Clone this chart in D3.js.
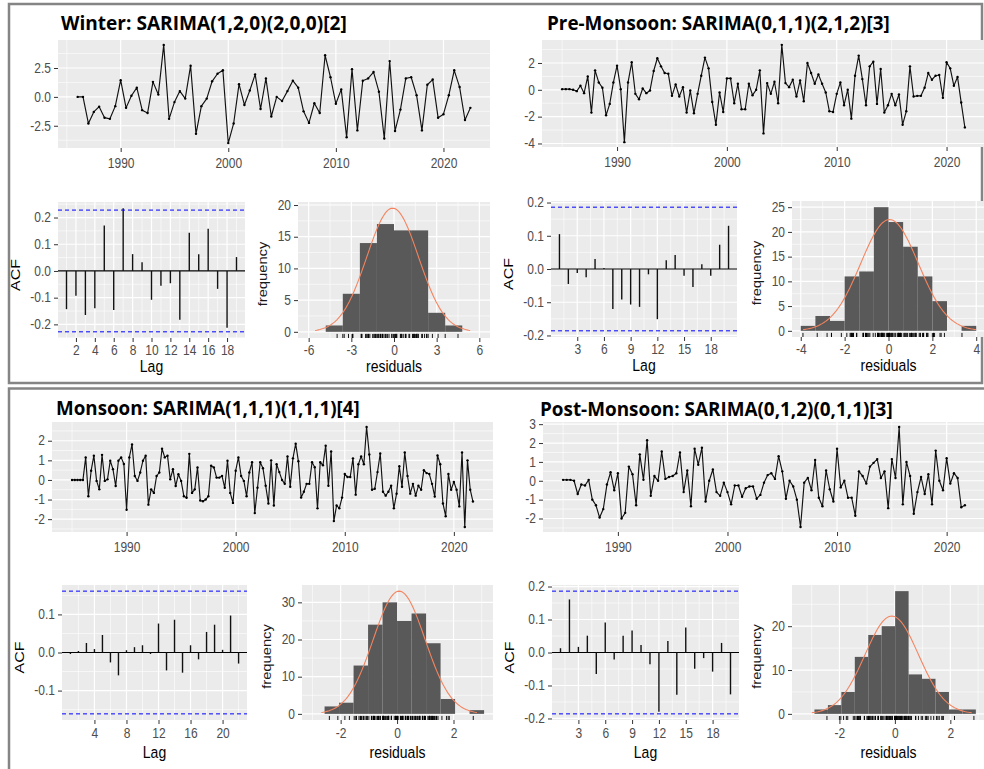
<!DOCTYPE html>
<html>
<head>
<meta charset="utf-8">
<script src="https://cdn.jsdelivr.net/npm/d3@7"></script>
<style>
  body { margin: 0; background: #fff; }
  svg { display: block; }
</style>
</head>
<body>
<script>
// ---------------- data ----------------
const titles = [
  "Winter: SARIMA(1,2,0)(2,0,0)[2]",
  "Pre-Monsoon: SARIMA(0,1,1)(2,1,2)[3]",
  "Monsoon: SARIMA(1,1,1)(1,1,1)[4]",
  "Post-Monsoon: SARIMA(0,1,2)(0,1,1)[3]"
];

// residual series (start year, observations per year)
const winterStart = 1986, winterFreq = 2;
const winterResid = [
  0.0, 0.0, -2.3, -1.3, -0.85, -1.8, -1.9, -0.8, 1.45, -0.95,
  0.1, 0.8, -1.15, -1.4, 1.3, 0.2, 4.5, -1.9, -0.45, 0.5,
  -0.15, 2.7, -3.2, -0.8, -0.15, 1.35, 2.0, 2.3, -4.0, -2.3,
  1.1, -0.7, 0.55, 1.95, -1.05, 1.6, -1.7, 0.0, -0.35, 0.5,
  1.4, 0.8, -1.25, -2.25, -0.55, -1.4, 3.6, 1.7, -0.6, 0.65,
  -3.5, 2.4, -2.9, 1.4, 1.6, 2.15, 0.45, -3.6, 3.1, -2.95,
  -1.1, 1.6, 1.7, 0.15, -2.9, 1.05, 1.5, -1.8, -1.5, 0.15,
  2.3, 0.85, -2.0, -0.95
];

const preStart = 1985, preFreq = 3;
const preResid = [
  0.05, 0.05, 0.05, 0.0, -0.1, 0.3, -0.25, 1.0, -1.7, 1.45, 0.55, 0.15,
  -1.9, -1.05, 0.55, 1.8, 0.05, -3.9, 0.55, 2.05, -0.3,
  -0.7, 0.1, -0.25, -0.05, 1.4, 2.35, 1.75, 1.25, 1.2, -0.45,
  0.4, -0.5, 0.2, -1.7, -0.05, -1.75, -0.3, 1.05, 2.4, 1.6,
  -0.9, -2.6, -0.2, -1.65, 0.85, 0.85, -1.0, 0.45, -1.45, -1.45,
  0.45, -0.4, 0.0, 1.45, -3.25, 0.5, -0.3, 0.6, -1.0, 3.35,
  0.5, 0.2, 0.75, -0.5, 0.7, -0.85, 2.0, 1.25, 0.45, 1.15,
  0.45, -0.2, -1.6, -1.65, -0.3, 0.55, -1.15, 0.0, -2.15, 1.05,
  2.55, 0.8, -1.15, 1.75, 2.1, -1.05, 1.55, -1.7, -1.15, -0.3,
  -1.15, -0.35, -2.6, -1.6, 1.75, -0.5, -0.45, -0.45, 0.15, 1.25,
  0.75, 1.05, 1.1, -0.6, 2.05, 1.6, 0.3, 0.95, -0.95, -2.8
];

const monStart = 1985, monFreq = 4;
const monResid = [
  0, 0, 0, 0, 0,
  1.15, -0.83, 0.47, 1.24, -0.05, -0.48, 1.28, -0.05, 0.03, 0.98, 0.55, -0.31, 0.98, 1.15, 0.81, -1.52,
  1.15, 1.81, 0.2, -0.05, 0.38, 0.98, 1.24, -1.26, -0.48, -0.66, 0.2, 0.38, 1.59, 1.15, 1.24, 0.03,
  0.55, -0.31, 0.29, -0.05, -0.83, -0.91, 1.33, -0.66, -0.48, 0.64, -1.05, -1.09, -1.0, -0.83, 0.72,
  0.64, 0.12, 0.12, 0.2, -0.4, 0.98, -0.66, -1.17,
  0.47, 1.15, 0.2, -0.05, -0.83, 0.38, 0.9, -1.69, -0.4,
  0.9, 0.6, -0.3, -1.2, 1.0, -1.3, 0.8, 0.4, 0.0, -0.2, 1.2, -0.35, 1.1, 1.85, 0.95, -0.9,
  -0.6, -0.2, -0.2, 0.9, 0.65, -1.45, 0.9, 0.75, 1.75, -0.3, 1.45, -2.1, -1.3, -1.45, -0.9,
  0.3, 0.15, 0.15, 1.1, -0.75, 0.8, 1.2, 0.8, 2.7, 1.3, -0.5, -0.45, 0.4, 1.35, -0.6, -0.8,
  -0.6, -0.3, -1.45, -0.7, 0.7, -0.35, 1.4, 0.2, -0.7, -0.2, -0.8, -0.3, -0.5, 0.5, 0.35,
  0.3, -0.2, -0.85, 1.25, 0.8, -1.2, -1.85, 0.3, -0.5, -0.1, -0.5, -1.35, 1.4, -2.4, 1.0,
  -0.5, -1.1
];

const postStart = 1985, postFreq = 3;
const postResid = [
  0.05, 0.05, 0.05, 0.0, -0.7, -0.2, -0.25, 0.05, -1.0, -1.3,
  -1.95, -1.5, -0.2, 0.45, -0.5, 0.4, -2.0, -1.7, 0.75, 0.35,
  -1.3, 1.4, 0.05, 2.15, -0.8, 0.25, 0.0, 1.55, 0.1, 0.2,
  0.25, 0.4, 1.5, -0.6, 0.55, -1.35, 1.7, 0.85, 1.75, -1.1,
  0.0, 0.6, -0.6, -0.8, -0.1, -0.6, -1.25, -0.25, -0.25, -0.85,
  -0.4, -0.3, -0.3, -0.95, -0.75, -0.1, 0.3, 0.4, 0.1, 1.3,
  0.5, -0.95, 0.0, -0.3, -1.0, -2.45, -0.1, 0.15, -0.5, 1.1,
  -0.9, -1.35, 0.55, -0.45, -1.1, 1.7, -0.35, 0.0, -0.9, -0.9,
  -1.85, 0.5, 0.25, -0.15, 0.75, 0.95, 1.15, 0.15, 0.5, -1.45,
  1.15, 0.15, 2.85, -1.25, 1.0, 0.25, -1.75, -0.6, 0.2, -0.7,
  0.35, -1.25, 1.6, 0.0, -0.5, 1.2, -0.15, 0.4, 0.15, -1.4,
  -1.3
];

// autocorrelations, lag 1..n
const winterAcf = [-0.143, -0.093, -0.165, -0.14, 0.17, -0.146, 0.235, 0.063, 0.033, -0.108,
  -0.055, -0.046, -0.183, 0.143, 0.063, 0.158, -0.067, -0.213, 0.052];
const preAcf = [0.105, -0.045, -0.012, -0.025, 0.03, 0.003, -0.12, -0.092, -0.107, -0.114,
  -0.016, -0.151, 0.026, 0.042, -0.02, -0.054, 0.014, -0.02, 0.073, 0.13];
const monAcf = [-0.004, 0.004, 0.025, 0.009, 0.046, -0.026, -0.06, 0.006, 0.014, 0.019,
  -0.004, 0.076, -0.047, 0.086, -0.053, 0.019, -0.018, 0.054, 0.073, 0.007, 0.097, -0.029];
const postAcf = [0.013, 0.161, 0.017, 0.051, -0.065, 0.091, -0.021, 0.051, 0.067, 0.023,
  -0.036, -0.18, 0.035, -0.128, 0.076, -0.049, -0.017, -0.058, 0.029, -0.127];

// histogram bins of the residuals
const winterBreaks = [-4.8, -3.6, -2.4, -1.2, 0, 1.2, 2.4, 3.6, 4.8];
const winterCounts = [1, 6, 14, 17, 16, 16, 3, 1];
const preBreaks = [-4, -3.333, -2.667, -2, -1.333, -0.667, 0, 0.667, 1.333, 2, 2.667, 3.333, 4];
const preCounts = [1, 3, 2, 11, 12, 25, 22, 17, 11, 6, 0, 1];
const monBreaks = [-2.57, -2.056, -1.542, -1.028, -0.514, 0, 0.514, 1.028, 1.542, 2.056, 2.57, 3.084];
const monCounts = [2, 3, 13, 24, 30, 25, 27, 19, 4, 0, 1];
const postBreaks = [-2.9, -2.415, -1.93, -1.445, -0.96, -0.475, 0.01, 0.495, 0.98, 1.465, 1.95, 2.435, 2.92];
const postCounts = [1, 2, 5, 13, 18, 20, 28, 9, 8, 5, 1, 1];

// tick labels
const yearTicks = [1990, 2000, 2010, 2020];
const winterTsTicks = [-2.5, 0, 2.5];
const preTsTicks = [-4, -2, 0, 2];
const monTsTicks = [-2, -1, 0, 1, 2];
const postTsTicks = [-2, -1, 0, 1, 2, 3];
const winterLagTicks = [2, 4, 6, 8, 10, 12, 14, 16, 18];
const preLagTicks = [3, 6, 9, 12, 15, 18];
const monLagTicks = [4, 8, 12, 16, 20];
const postLagTicks = [3, 6, 9, 12, 15, 18];
const acfTicksWide = [-0.2, -0.1, 0, 0.1, 0.2];
const acfTicksNarrow = [-0.1, 0, 0.1];
const winterResTicks = [-6, -3, 0, 3, 6];
const preResTicks = [-4, -2, 0, 2, 4];
const monResTicks = [-2, 0, 2];
const postResTicks = [-2, 0, 2];
const winterFreqTicks = [0, 5, 10, 15, 20];
const preFreqTicks = [0, 5, 10, 15, 20, 25];
const monFreqTicks = [0, 10, 20, 30];
const postFreqTicks = [0, 10, 20];

// ---------------- layout ----------------
const W = 984, H = 769;
const FONT = "'Liberation Sans', Arial, sans-serif";
const TITLE_FONT = "'Open Sans', 'Noto Sans', sans-serif";
const SY = 1.18;   // the picture is a little taller than wide, so text is stretched

const panels = [
  { title: [61, 29.5, 286], ts: [58, 40, 490, 148], acf: [58, 202, 245, 338], hist: [298, 202, 490, 338], lblTop: 7, gap: 34,
    resid: winterResid, start: winterStart, freq: winterFreq, tsTicks: winterTsTicks, tsFmt: 1,
    acfv: winterAcf, lagTicks: winterLagTicks, acfTicks: acfTicksWide,
    breaks: winterBreaks, counts: winterCounts, xlim: [-6.75, 6.75], resTicks: winterResTicks, freqTicks: winterFreqTicks },
  { title: [547, 29.5, 343], ts: [542, 40, 985, 147], acf: [551, 201, 737, 337], hist: [792, 201, 985, 337], lblTop: 7, gap: 34,
    resid: preResid, start: preStart, freq: preFreq, tsTicks: preTsTicks, tsFmt: 0,
    acfv: preAcf, lagTicks: preLagTicks, acfTicks: acfTicksWide,
    breaks: preBreaks, counts: preCounts, xlim: [-4.4, 4.4], resTicks: preResTicks, freqTicks: preFreqTicks },
  { title: [56, 415, 304], ts: [52, 422, 493, 532], acf: [62, 585, 247, 720], hist: [302, 585, 493, 720], lblTop: 8, gap: 37.5,
    resid: monResid, start: monStart, freq: monFreq, tsTicks: monTsTicks, tsFmt: 0,
    acfv: monAcf, lagTicks: monLagTicks, acfTicks: acfTicksNarrow,
    breaks: monBreaks, counts: monCounts, xlim: [-3.37, 3.4], resTicks: monResTicks, freqTicks: monFreqTicks },
  { title: [540, 416, 353], ts: [543, 422, 985, 532], acf: [552, 585, 739, 720], hist: [792, 585, 985, 720], lblTop: 8, gap: 37.5,
    resid: postResid, start: postStart, freq: postFreq, tsTicks: postTsTicks, tsFmt: 0,
    acfv: postAcf, lagTicks: postLagTicks, acfTicks: acfTicksWide,
    breaks: postBreaks, counts: postCounts, xlim: [-3.71, 3.25], resTicks: postResTicks, freqTicks: postFreqTicks }
];

const svg = d3.select("body").append("svg")
  .attr("width", W).attr("height", H)
  .attr("viewBox", `0 0 ${W} ${H}`);

svg.append("rect").attr("width", W).attr("height", H).attr("fill", "#fff");

// outer frames
svg.append("rect").attr("x", 9).attr("y", 4).attr("width", 973).attr("height", 379)
  .attr("fill", "none").attr("stroke", "#858585").attr("stroke-width", 2.5);
svg.append("rect").attr("x", 9).attr("y", 388.5).attr("width", 1000).attr("height", 420)
  .attr("fill", "none").attr("stroke", "#858585").attr("stroke-width", 2.5);

// ---------------- helpers ----------------
function expand(ext, f = 0.05) {
  const d = (ext[1] - ext[0]) * f;
  return [ext[0] - d, ext[1] + d];
}

function minorOf(ticks, dom) {
  const step = ticks[1] - ticks[0];
  const out = [];
  for (let v = ticks[0] - step / 2; v <= dom[1]; v += step) {
    if (v >= dom[0]) out.push(v);
  }
  return out;
}

function fmt(dec) {
  return d => d.toFixed(dec);
}

function addText(g, str, x, y, o = {}) {
  return g.append("text")
    .attr("transform", `translate(${x},${y}) scale(1,${o.sy || SY})` + (o.rotate ? ` rotate(${o.rotate})` : ""))
    .attr("text-anchor", o.anchor || "middle")
    .attr("font-family", o.family || FONT)
    .attr("font-size", o.size || 12)
    .attr("font-weight", o.weight || "normal")
    .attr("fill", o.fill || "#000")
    .text(str);
}

function panelBase(box) {
  const [x0, y0, x1, y1] = box;
  const g = svg.append("g").attr("transform", `translate(${x0},${y0})`);
  return { g, w: x1 - x0, h: y1 - y0 };
}

function drawGrid(g, x, y, w, h, xTicks, yTicks) {
  g.append("rect").attr("width", w).attr("height", h).attr("fill", "#EBEBEB");
  const xMin = minorOf(xTicks, x.domain()), yMin = minorOf(yTicks, y.domain());
  g.selectAll(null).data(yMin).join("line")
    .attr("x1", 0).attr("x2", w).attr("y1", d => y(d)).attr("y2", d => y(d))
    .attr("stroke", "#fff").attr("stroke-width", 0.6);
  g.selectAll(null).data(xMin).join("line")
    .attr("y1", 0).attr("y2", h).attr("x1", d => x(d)).attr("x2", d => x(d))
    .attr("stroke", "#fff").attr("stroke-width", 0.6);
  g.selectAll(null).data(yTicks).join("line")
    .attr("x1", 0).attr("x2", w).attr("y1", d => y(d)).attr("y2", d => y(d))
    .attr("stroke", "#fff").attr("stroke-width", 1.2);
  g.selectAll(null).data(xTicks).join("line")
    .attr("y1", 0).attr("y2", h).attr("x1", d => x(d)).attr("x2", d => x(d))
    .attr("stroke", "#fff").attr("stroke-width", 1.2);
}

function drawAxes(g, x, y, h, xTicks, yTicks, xf, yf, top) {
  const ax = g.append("g").attr("transform", `translate(0,${h})`)
    .call(d3.axisBottom(x).tickValues(xTicks).tickSize(4).tickPadding(4).tickFormat(xf));
  const ay = g.append("g")
    .call(d3.axisLeft(y).tickValues(yTicks).tickSize(4).tickPadding(3).tickFormat(yf));
  [ax, ay].forEach(a => {
    a.attr("font-family", FONT).attr("font-size", 12);
    a.select(".domain").remove();
    a.selectAll(".tick line").attr("stroke", "#333333").attr("stroke-width", 1);
    a.selectAll(".tick text").attr("fill", "#4D4D4D").attr("transform", `scale(1,${SY})`);
  });
  ax.selectAll(".tick text").attr("y", top / SY);
  ay.selectAll(".tick text").attr("dy", "0.3em");
}

// ---------------- panels ----------------
function drawSeries(p) {
  const { g, w, h } = panelBase(p.ts);
  const pts = p.resid.map((v, i) => ({ t: p.start + i / p.freq, v }));
  const x = d3.scaleLinear().domain(expand(d3.extent(pts, d => d.t))).range([0, w]);
  const y = d3.scaleLinear().domain(expand(d3.extent(p.resid))).range([h, 0]);
  drawGrid(g, x, y, w, h, yearTicks, p.tsTicks);

  g.append("path").datum(pts)
    .attr("d", d3.line().x(d => x(d.t)).y(d => y(d.v)))
    .attr("fill", "none").attr("stroke", "#111").attr("stroke-width", 1.15)
    .attr("stroke-linejoin", "round");
  g.selectAll("circle").data(pts).join("circle")
    .attr("cx", d => x(d.t)).attr("cy", d => y(d.v)).attr("r", 1.2).attr("fill", "#000");

  drawAxes(g, x, y, h, yearTicks, p.tsTicks, fmt(0), fmt(p.tsFmt), 10);
}

function drawAcf(p) {
  const { g, w, h } = panelBase(p.acf);
  const n = p.resid.length;
  const ci = 1.96 / Math.sqrt(n);
  const lags = p.acfv.map((v, i) => ({ lag: i + 1, v }));
  const x = d3.scaleLinear().domain(expand([1, lags.length])).range([0, w]);
  const yExt = d3.extent([...p.acfv, ci, -ci]);
  const y = d3.scaleLinear().domain(expand(yExt)).range([h, 0]);
  drawGrid(g, x, y, w, h, p.lagTicks, p.acfTicks);

  g.append("line").attr("x1", 0).attr("x2", w).attr("y1", y(0)).attr("y2", y(0))
    .attr("stroke", "#000").attr("stroke-width", 1.2);
  g.selectAll(".bar").data(lags).join("line")
    .attr("x1", d => x(d.lag)).attr("x2", d => x(d.lag))
    .attr("y1", y(0)).attr("y2", d => y(d.v))
    .attr("stroke", "#111").attr("stroke-width", 1.4);
  g.selectAll(".ci").data([ci, -ci]).join("line")
    .attr("x1", 0).attr("x2", w).attr("y1", d => y(d)).attr("y2", d => y(d))
    .attr("stroke", "#0000FF").attr("stroke-width", 1).attr("stroke-dasharray", "4,3");

  drawAxes(g, x, y, h, p.lagTicks, p.acfTicks, fmt(0), fmt(1), p.lblTop);

  addText(g, "ACF", -38, h / 2 + 5, { rotate: -90, size: 13.5, fill: "#000" });
  addText(g, "Lag", w / 2, h + p.gap, { size: 14, fill: "#000" });
}

function drawHist(p) {
  const { g, w, h } = panelBase(p.hist);
  const n = p.resid.length;
  const bw = p.breaks[1] - p.breaks[0];
  const bins = p.counts.map((c, i) => ({ x0: p.breaks[i], x1: p.breaks[i + 1], c }));
  const mean = d3.mean(p.resid), sd = d3.deviation(p.resid);
  const curveX = d3.range(0, 101).map(k => mean - 3 * sd + k * 6 * sd / 100);
  const curve = curveX.map(v => ({ v, c: n * bw * Math.exp(-0.5 * ((v - mean) / sd) ** 2) / (sd * Math.sqrt(2 * Math.PI)) }));
  const top = Math.max(d3.max(p.counts), d3.max(curve, d => d.c));

  const x = d3.scaleLinear().domain(p.xlim).range([0, w]);
  const y = d3.scaleLinear().domain(expand([0, top])).range([h, 0]);
  drawGrid(g, x, y, w, h, p.resTicks, p.freqTicks);

  g.selectAll(".bin").data(bins).join("rect")
    .attr("x", d => x(d.x0)).attr("width", d => x(d.x1) - x(d.x0))
    .attr("y", d => y(d.c)).attr("height", d => y(0) - y(d.c))
    .attr("fill", "#595959");

  g.append("path").datum(curve)
    .attr("d", d3.line().x(d => x(d.v)).y(d => y(d.c)))
    .attr("fill", "none").attr("stroke", "#F4845F").attr("stroke-width", 1.1);

  g.selectAll(".rug").data(p.resid).join("line")
    .attr("x1", d => x(d)).attr("x2", d => x(d))
    .attr("y1", h).attr("y2", h - h * 0.03)
    .attr("stroke", "#000").attr("stroke-width", 0.9);

  drawAxes(g, x, y, h, p.resTicks, p.freqTicks, fmt(0), fmt(0), p.lblTop);

  addText(g, "frequency", -31, h / 2 + 4, { rotate: -90, size: 12.5, fill: "#1a1a1a" });
  addText(g, "residuals", w / 2, h + p.gap, { size: 14, fill: "#000" });
}

function drawTitle(p, txt) {
  const [tx, ty, target] = p.title;
  const t = addText(svg, txt, tx, ty, { anchor: "start", family: TITLE_FONT, weight: 700, size: 18, sy: 1 });
  const len = t.node().getComputedTextLength();
  t.attr("font-size", 18 * target / len);
}

panels.forEach((p, i) => {
  drawSeries(p);
  drawAcf(p);
  drawHist(p);
  drawTitle(p, titles[i]);
});
</script>
</body>
</html>
